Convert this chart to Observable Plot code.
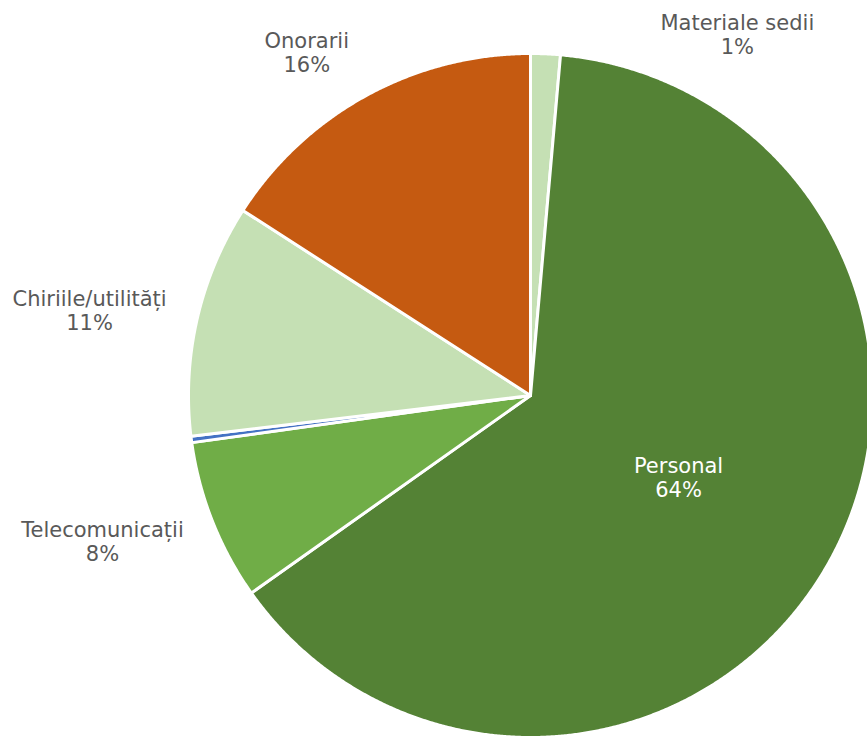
<!DOCTYPE html>
<html>
<head>
<meta charset="utf-8">
<script src="https://cdn.jsdelivr.net/npm/d3@7"></script>
<script src="https://cdn.jsdelivr.net/npm/@observablehq/plot@0.6"></script>
<style>
  html, body { margin: 0; padding: 0; background: #ffffff; }
  #chart svg { display: block; }
</style>
</head>
<body>
<div id="chart"></div>
<script>
// ---- data (clockwise from 12 o'clock) ----
const categories = ["Materiale sedii", "Personal", "Telecomunicații", "Altele", "Chiriile/utilități", "Onorarii"];
const values     = [1.4, 63.8, 7.6, 0.3, 11.0, 15.9];
const showLabel  = [true, true, true, false, true, true];

// ---- styles / layout ----
const sliceColors = ["#c5e0b4", "#548235", "#70ad47", "#4472c4", "#c5e0b4", "#c55a11"];
const W = 867, H = 736, CX = 530, CY = 395, R = 342;
// label anchor: [angle in degrees clockwise from top, radius as fraction of R]
const labelAnchor = {
  "Materiale sedii":    [29.8, 1.217],
  "Personal":           [119.0, 0.495],
  "Telecomunicații":    [251.2, 1.322],
  "Chiriile/utilități": [280.9, 1.313],
  "Onorarii":           [326.9, 1.198]
};
const insideLabels = new Set(["Personal"]);

// ---- geometry from data ----
const total = d3.sum(values);
const pts = [];
let acc = 0;
categories.forEach((name, i) => {
  const a0 = acc / total * 2 * Math.PI;
  acc += values[i];
  const a1 = acc / total * 2 * Math.PI;
  const n = Math.max(2, Math.ceil((a1 - a0) / (Math.PI / 720)));
  pts.push({name, x: 0, y: 0});
  for (let k = 0; k <= n; k++) {
    const a = a0 + (a1 - a0) * k / n;
    pts.push({name, x: Math.sin(a), y: Math.cos(a)});
  }
  pts.push({name, x: 0, y: 0});
});

const labels = categories.map((name, i) => ({name, value: values[i], show: showLabel[i]}))
  .filter(d => d.show)
  .map(d => {
    const [deg, r] = labelAnchor[d.name];
    const a = deg * Math.PI / 180;
    return {
      name: d.name,
      text: `${d.name}\n${Math.round(d.value / total * 100)}%`,
      x: r * Math.sin(a),
      y: r * Math.cos(a),
      inside: insideLabels.has(d.name)
    };
  });

const font = "DejaVu Sans, Verdana, sans-serif";

const chart = Plot.plot({
  width: W,
  height: H,
  margin: 0,
  style: {background: "#ffffff", fontFamily: font},
  x: {domain: [-CX / R, (W - CX) / R], axis: null},
  y: {domain: [-(H - CY) / R, CY / R], axis: null},
  color: {domain: categories, range: sliceColors},
  marks: [
    Plot.line(pts, {
      x: "x", y: "y", z: "name", fill: "name",
      stroke: "white", strokeWidth: 3, strokeLinejoin: "round", curve: "linear"
    }),
    Plot.text(labels.filter(d => !d.inside), {
      x: "x", y: "y", text: "text", fill: "#595959",
      fontSize: 21, lineHeight: 1.14, lineAnchor: "middle", textAnchor: "middle", fontFamily: font
    }),
    Plot.text(labels.filter(d => d.inside), {
      x: "x", y: "y", text: "text", fill: "#ffffff",
      fontSize: 21, lineHeight: 1.14, lineAnchor: "middle", textAnchor: "middle", fontFamily: font
    })
  ]
});

document.getElementById("chart").appendChild(chart);
</script>
</body>
</html>
